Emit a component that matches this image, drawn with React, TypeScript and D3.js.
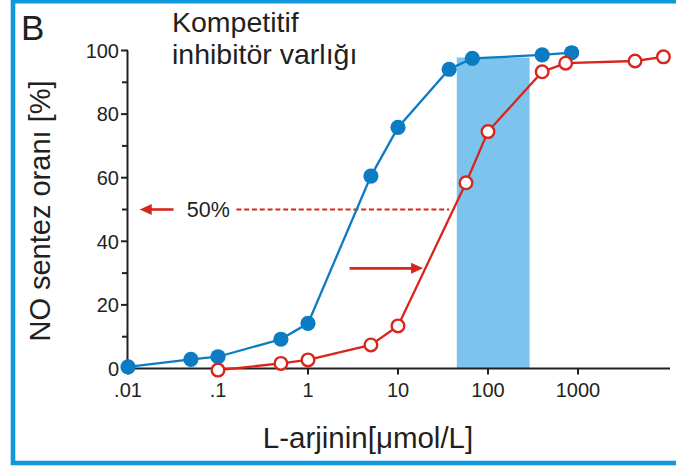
import React from "react";
import * as d3 from "d3";

// L-arginine concentration (µmol/L) and NO synthesis rate (%)
const controlX = [0.01, 0.05, 0.1, 0.5, 1, 5, 10, 37, 67, 400, 850];
const controlY = [0.5, 2.9, 3.7, 9.2, 14.2, 60.5, 75.8, 94.1, 97.5, 98.6, 99.3];

const inhibitedX = [0.1, 0.5, 1, 5, 10, 57, 100, 400, 730, 4300, 8900];
const inhibitedY = [-0.5, 1.6, 2.7, 7.4, 13.4, 58.4, 74.5, 93.3, 96, 96.7, 98];

// physiological L-arginine range band
const bandX = [45, 290];
const bandTop = 97.8;

const xTickValues = [0.01, 0.1, 1, 10, 100, 1000];
const xTickLabels = [".01", ".1", "1", "10", "100", "1000"];
const yMajorTicks = [0, 20, 40, 60, 80, 100];
const yMinorTicks = [10, 30, 50, 70, 90];

// 50% reference line and shift arrow
const halfLevel = 50;
const halfDashX = [0.16, 37];
const halfArrowX = [0.0135, 0.032];
const halfLabelX = 0.045;
const shiftArrowX = [2.9, 19];
const shiftArrowY = 31.5;

const W = 676;
const H = 468;
const BLUE = "#0b7bc3";
const RED = "#d8261d";
const BAND = "#7cc4ee";
const FRAME = "#1198dc";
const INK = "#231f20";
const FONT = "'Liberation Sans', Arial, Helvetica, sans-serif";

export default function App() {
  const x = d3.scaleLog().domain([0.01, 1000]).range([128, 578]);
  const y = d3.scaleLinear().domain([0, 100]).range([368.5, 50.5]);
  const xAxisEnd = 670;

  const line = d3
    .line<[number, number]>()
    .x((d) => x(d[0]))
    .y((d) => y(d[1]));

  const control: [number, number][] = controlX.map((v, i) => [v, controlY[i]]);
  const inhibited: [number, number][] = inhibitedX.map((v, i) => [v, inhibitedY[i]]);

  const yHalf = y(halfLevel);
  const ySh = y(shiftArrowY);

  return (
    <svg
      width={W}
      height={H}
      style={{ position: "fixed", left: 0, top: 0, background: "#fff" }}
      fontFamily={FONT}
    >
      <rect x={0} y={0} width={W} height={H} fill="#fff" />
      {/* frame */}
      <rect x={13} y={1.2} width={W + 20} height={461.8} fill="none" stroke={FRAME} strokeWidth={4.6} />

      {/* panel letter and condition title */}
      <text x={21} y={39.5} fontSize={35} fill={INK}>B</text>
      <text x={172} y={31.7} fontSize={28.5} fill={INK}>Kompetitif</text>
      <text x={172} y={63.5} fontSize={28.5} fill={INK}>inhibitör varlığı</text>

      {/* band */}
      <rect
        x={x(bandX[0])}
        y={y(bandTop)}
        width={x(bandX[1]) - x(bandX[0])}
        height={y(0) - y(bandTop)}
        fill={BAND}
      />

      {/* axes */}
      <line x1={x(0.01) - 0.5} x2={xAxisEnd} y1={y(0)} y2={y(0)} stroke={INK} strokeWidth={2} />
      <line x1={x(0.01) - 0.5} x2={x(0.01) - 0.5} y1={y(0) + 1} y2={y(100)} stroke={INK} strokeWidth={2} />
      {yMajorTicks.map((t) => (
        <g key={"ym" + t}>
          <line x1={x(0.01) - 7} x2={x(0.01)} y1={y(t)} y2={y(t)} stroke={INK} strokeWidth={2} />
          <text
            x={x(0.01) - 9}
            y={y(t)}
            dy="0.36em"
            textAnchor="end"
            fontSize={20}
            fill={INK}
          >
            {t}
          </text>
        </g>
      ))}
      {yMinorTicks.map((t) => (
        <line key={"yn" + t} x1={x(0.01) - 6} x2={x(0.01)} y1={y(t)} y2={y(t)} stroke={INK} strokeWidth={2} />
      ))}
      {xTickValues.map((t, i) => (
        <g key={"x" + t}>
          <line x1={x(t)} x2={x(t)} y1={y(0)} y2={y(0) + 6} stroke={INK} strokeWidth={2} />
          <text x={x(t)} y={397} textAnchor="middle" fontSize={20} fill={INK}>
            {xTickLabels[i]}
          </text>
        </g>
      ))}

      {/* axis titles */}
      <text x={368} y={448} textAnchor="middle" fontSize={29.5} fill={INK}>
        L-arjinin[μmol/L]
      </text>
      <text
        transform={`translate(50,${211}) rotate(-90)`}
        textAnchor="middle"
        fontSize={29}
        fill={INK}
      >
        NO sentez oranı [%]
      </text>

      {/* 50% annotation */}
      <line
        x1={x(halfDashX[0])}
        x2={x(halfDashX[1])}
        y1={yHalf}
        y2={yHalf}
        stroke={RED}
        strokeWidth={2}
        strokeDasharray="5,2.8"
      />
      <line x1={x(halfArrowX[0]) + 8} x2={x(halfArrowX[1])} y1={yHalf} y2={yHalf} stroke={RED} strokeWidth={2.6} />
      <path
        d={`M${x(halfArrowX[0])},${yHalf} l12,-5.5 l0,11 z`}
        fill={RED}
      />
      <text x={x(halfLabelX)} y={yHalf} dy="0.36em" fontSize={21.5} fill={INK}>50%</text>

      {/* shift arrow */}
      <line x1={x(shiftArrowX[0])} x2={x(shiftArrowX[1]) - 8} y1={ySh} y2={ySh} stroke={RED} strokeWidth={2.6} />
      <path d={`M${x(shiftArrowX[1])},${ySh} l-12,-5.5 l0,11 z`} fill={RED} />

      {/* curves */}
      <path d={line(control) || ""} fill="none" stroke={BLUE} strokeWidth={2.3} />
      <path d={line(inhibited) || ""} fill="none" stroke={RED} strokeWidth={2.3} />
      {control.map((d, i) => (
        <circle key={"c" + i} cx={x(d[0])} cy={y(d[1])} r={7.6} fill={BLUE} />
      ))}
      {inhibited.map((d, i) => (
        <circle
          key={"r" + i}
          cx={x(d[0])}
          cy={y(d[1])}
          r={6.3}
          fill="#fff"
          stroke={RED}
          strokeWidth={2.4}
        />
      ))}
    </svg>
  );
}
